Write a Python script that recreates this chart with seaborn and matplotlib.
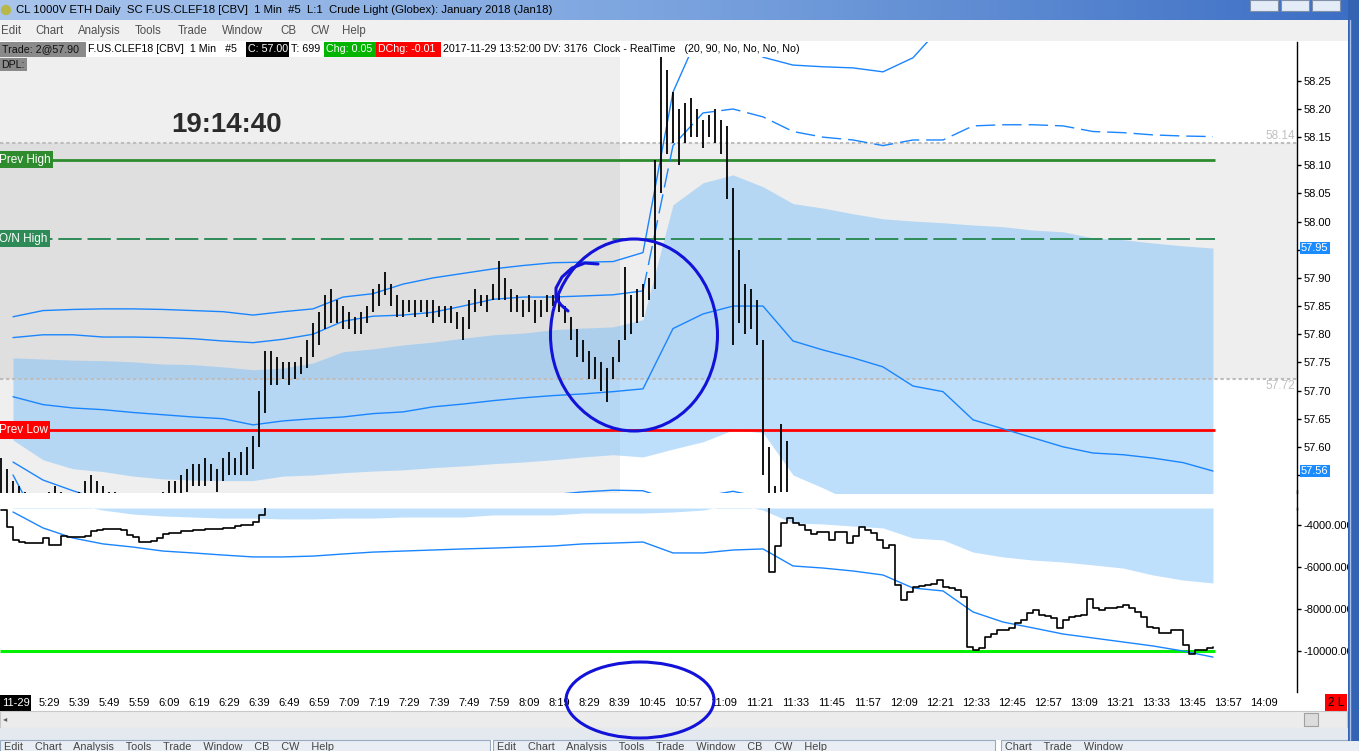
import numpy as np
import pandas as pd
import seaborn as sns
import matplotlib.pyplot as plt
from matplotlib.patches import Rectangle, Ellipse, Circle
from matplotlib.colors import LinearSegmentedColormap
from matplotlib import transforms

# ---- price bars (one bar every 2 slots), low / high
BAR_LO = [57.50, 57.50, 57.48, 57.47, 57.47, 57.46, 57.46, 57.47, 57.48, 57.49,
          57.49, 57.48, 57.48, 57.48, 57.49, 57.50, 57.50, 57.49, 57.49, 57.48,
          57.47, 57.46, 57.46, 57.45, 57.45, 57.46, 57.47, 57.49, 57.50, 57.50,
          57.51, 57.52, 57.53, 57.53, 57.53, 57.54, 57.52, 57.54, 57.55, 57.55,
          57.55, 57.55, 57.56, 57.60, 57.66, 57.71, 57.71, 57.72, 57.71, 57.72,
          57.73, 57.74, 57.76, 57.78, 57.81, 57.82, 57.82, 57.81, 57.81, 57.80,
          57.80, 57.82, 57.84, 57.85, 57.87, 57.85, 57.83, 57.83, 57.84, 57.83,
          57.84, 57.83, 57.82, 57.83, 57.82, 57.82, 57.81, 57.79, 57.81, 57.84,
          57.85, 57.84, 57.86, 57.86, 57.86, 57.84, 57.84, 57.83, 57.84, 57.82,
          57.83, 57.84, 57.85, 57.84, 57.82, 57.79, 57.76, 57.75, 57.72, 57.72,
          57.70, 57.68, 57.72, 57.75, 57.79, 57.80, 57.82, 57.83, 57.86, 57.88,
          58.05, 58.12, 58.14, 58.10, 58.14, 58.15, 58.15, 58.13, 58.15, 58.14,
          58.12, 58.04, 57.78, 57.82, 57.80, 57.81, 57.78, 57.55, 57.45, 57.47,
          57.52, 57.52]
BAR_HI = [57.58, 57.56, 57.54, 57.53, 57.52, 57.51, 57.50, 57.50, 57.52, 57.53,
          57.52, 57.51, 57.51, 57.52, 57.54, 57.55, 57.54, 57.53, 57.52, 57.52,
          57.50, 57.50, 57.50, 57.49, 57.49, 57.50, 57.51, 57.52, 57.54, 57.54,
          57.55, 57.56, 57.57, 57.57, 57.58, 57.57, 57.56, 57.58, 57.59, 57.58,
          57.59, 57.60, 57.62, 57.70, 57.77, 57.77, 57.76, 57.75, 57.75, 57.75,
          57.76, 57.79, 57.82, 57.84, 57.87, 57.88, 57.86, 57.85, 57.84, 57.83,
          57.84, 57.85, 57.88, 57.89, 57.91, 57.89, 57.87, 57.86, 57.86, 57.86,
          57.86, 57.86, 57.86, 57.85, 57.85, 57.85, 57.84, 57.83, 57.86, 57.88,
          57.87, 57.87, 57.89, 57.93, 57.90, 57.88, 57.87, 57.86, 57.87, 57.86,
          57.86, 57.87, 57.87, 57.87, 57.85, 57.83, 57.81, 57.79, 57.77, 57.76,
          57.75, 57.74, 57.76, 57.79, 57.92, 57.87, 57.88, 57.89, 57.90, 58.11,
          58.30, 58.27, 58.23, 58.20, 58.21, 58.22, 58.20, 58.18, 58.19, 58.20,
          58.18, 58.17, 58.06, 57.95, 57.89, 57.88, 57.86, 57.79, 57.60, 57.53,
          57.64, 57.61]

# ---- bands, sampled every 10 slots
VWAP = [57.689, 57.675, 57.669, 57.666, 57.661, 57.657, 57.653, 57.650, 57.639, 57.646,
        57.650, 57.653, 57.659, 57.662, 57.671, 57.676, 57.682, 57.687, 57.691, 57.694,
        57.698, 57.703, 57.810, 57.836, 57.850, 57.850, 57.788, 57.772, 57.758, 57.742,
        57.708, 57.698, 57.648, 57.632, 57.616, 57.600, 57.589, 57.586, 57.580, 57.572,
        57.557]
UPPER1 = [57.794, 57.799, 57.799, 57.795, 57.795, 57.794, 57.792, 57.788, 57.785, 57.791,
          57.800, 57.823, 57.832, 57.834, 57.839, 57.850, 57.862, 57.866, 57.866, 57.868,
          57.870, 57.877, 58.135, 58.193, 58.200, 58.186, 58.160, 58.150, 58.145, 58.135,
          58.145, 58.145, 58.170, 58.172, 58.172, 58.170, 58.160, 58.158, 58.154, 58.152,
          58.151]
UPPER2 = [57.831, 57.842, 57.844, 57.845, 57.845, 57.844, 57.842, 57.840, 57.834, 57.840,
          57.845, 57.866, 57.872, 57.889, 57.900, 57.908, 57.916, 57.922, 57.927, 57.928,
          57.929, 57.945, 58.230, 58.350, 58.360, 58.292, 58.278, 58.275, 58.273, 58.266,
          58.291, 58.350]
LOWER1 = [57.573, 57.541, 57.522, 57.505, 57.495, 57.490, 57.488, 57.488, 57.490, 57.495,
          57.498, 57.500, 57.502, 57.505, 57.507, 57.509, 57.511, 57.513, 57.515, 57.520,
          57.523, 57.522, 57.505, 57.512, 57.521, 57.510]
LOWER2 = [57.550, 57.450]
AREA_HI = [57.758, 57.756, 57.754, 57.753, 57.751, 57.747, 57.746, 57.742, 57.737, 57.740,
           57.749, 57.769, 57.774, 57.781, 57.786, 57.793, 57.799, 57.802, 57.808, 57.811,
           57.813, 57.826, 58.030, 58.069, 58.083, 58.062, 58.032, 58.024, 58.014, 58.005,
           58.001, 57.998, 57.994, 57.991, 57.985, 57.982, 57.971, 57.968, 57.962, 57.957,
           57.953]
AREA_LO = [57.612, 57.577, 57.561, 57.556, 57.548, 57.543, 57.541, 57.540, 57.540, 57.548,
           57.550, 57.554, 57.557, 57.559, 57.563, 57.566, 57.570, 57.573, 57.577, 57.582,
           57.586, 57.582, 57.596, 57.609, 57.630, 57.625, 57.550, 57.527, 57.502, 57.479,
           57.415, 57.398, 57.302, 57.273, 57.247, 57.218, 57.207, 57.204, 57.198, 57.187,
           57.161]

PREV_HIGH, ON_HIGH, PREV_LOW = 58.11, 57.97, 57.63
RANGE_HI, RANGE_LO = 58.14, 57.72
PRICE_TICKS = [58.25, 58.20, 58.15, 58.10, 58.05, 58.00, 57.95, 57.90,
               57.85, 57.80, 57.75, 57.70, 57.65, 57.60, 57.55]

# ---- lower panel: cumulative delta (two visible pieces) and its band
DELTA_A = [-3290, -4100, -4720, -4800, -4860, -4860, -4860, -4600, -4950, -4950,
           -4500, -4550, -4570, -4570, -4500, -4300, -4250, -4200, -4190, -4190,
           -4250, -4480, -4570, -4800, -4800, -4750, -4620, -4430, -4400, -4380,
           -4300, -4300, -4250, -4250, -4190, -4190, -4190, -4150, -4150, -4030,
           -4020, -4020, -3860, -3520, -2700]
DELTA_B = [-2700, -6240, -5000, -3900, -3650, -3900, -4000, -4240, -4450, -4330,
           -4330, -4710, -4330, -4330, -4860, -4500, -4100, -4240, -4380, -4710,
           -5100, -4950, -6860, -7570, -7200, -6950, -6900, -6860, -6800, -6620,
           -6950, -7000, -7100, -7430, -9810, -9950, -9880, -9330, -9200, -9000,
           -9000, -8900, -8670, -8520, -8190, -8050, -8290, -8350, -8430, -8900,
           -8520, -8380, -8330, -8290, -7500, -7950, -8050, -7950, -7950, -7900,
           -7810, -7950, -8140, -8380, -8860, -8900, -9140, -9140, -9000, -9000,
           -9710, -10140, -9950, -9950, -9860, -9810]
DELTA_VWAP = [-3380, -4140, -4620, -4900, -5050, -5240, -5330, -5430, -5520, -5520,
              -5480, -5380, -5290, -5240, -5190, -5140, -5100, -5050, -5000, -4900,
              -4860, -4810, -5330, -5330, -5190, -5140, -5950, -6050, -6190, -6380,
              -7000, -7140, -8140, -8620, -8900, -9190, -9380, -9570, -9760, -10000,
              -10290]
DELTA_AREA = [-3000, -3000, -3000, -3290, -3480, -3570, -3620, -3670, -3670, -3710,
              -3710, -3670, -3670, -3620, -3620, -3620, -3520, -3520, -3520, -3430,
              -3430, -3430, -3380, -3290, -3000, -3290, -3900, -3950, -4050, -4140,
              -4620, -4710, -5290, -5520, -5670, -5760, -5900, -6050, -6380, -6620,
              -6760]
DELTA_LEVEL = -10000
DELTA_TICKS = [-4000, -6000, -8000, -10000]

TIME_LABELS = ['5:29', '5:39', '5:49', '5:59', '6:09', '6:19', '6:29', '6:39', '6:49', '6:59',
               '7:09', '7:19', '7:29', '7:39', '7:49', '7:59', '8:09', '8:19', '8:29', '8:39',
               '10:45', '10:57', '11:09', '11:21', '11:33', '11:45', '11:57', '12:09', '12:21',
               '12:33', '12:45', '12:57', '13:09', '13:21', '13:33', '13:45', '13:57', '14:09']

# ---------------------------------------------------------------------------
sns.set_style("white")
plt.rcParams['font.family'] = ['Liberation Sans', 'DejaVu Sans']

W, H = 1359, 751
BLUE = '#1a85ff'


def slot(px):
    # screen column -> bar slot
    return (px - 49) / 3.0


bar_x = [-16 + 2 * i for i in range(len(BAR_LO))]
band_x = [-12 + 10 * i for i in range(len(VWAP))]
da_x = [-16 + 2 * i for i in range(len(DELTA_A))]
db_x = [238 + 2 * i for i in range(len(DELTA_B))]
tick_x = [10 * i if i < 20 else 201 + 12 * (i - 20) for i in range(len(TIME_LABELS))]
XL = (slot(0), slot(1297))
SESSION_END = slot(620)
LINE_END = slot(1215)

fig = plt.figure(figsize=(W / 100, H / 100), dpi=100, facecolor='white')
ax = fig.add_axes([0, 1 - 493 / H, 1297 / W, 451 / H])
ax2 = fig.add_axes([0, 1 - 692 / H, 1297 / W, 184 / H])

# ---- main price panel
ax.axvspan(XL[0], SESSION_END, color='#efefef', lw=0, zorder=0)
ax.axhspan(RANGE_LO, RANGE_HI, color='black', alpha=0.065, lw=0, zorder=0.2)
ax.fill_between(band_x, AREA_LO, AREA_HI, color='#7fc1f9', alpha=0.5, lw=0, zorder=1)

for level in (RANGE_HI, RANGE_LO):
    ax.hlines(level, XL[0], XL[1], color='#bdbdbd', lw=1.5, ls=(0, (1.6, 1.3)), zorder=2)
ax.hlines(PREV_HIGH, XL[0], LINE_END, color='#2e8b2e', lw=2, zorder=2)
ax.hlines(ON_HIGH, XL[0], LINE_END, color='#2e8b57', lw=1.4, ls=(0, (12, 3)), zorder=2)
ax.hlines(PREV_LOW, XL[0], LINE_END, color='#ff0000', lw=2, zorder=2)

sns.lineplot(x=band_x, y=VWAP, ax=ax, color=BLUE, lw=1, estimator=None, sort=False, zorder=3)
sns.lineplot(x=band_x[:22], y=UPPER1[:22], ax=ax, color=BLUE, lw=1, estimator=None,
             sort=False, zorder=3)
sns.lineplot(x=band_x[21:], y=UPPER1[21:], ax=ax, color=BLUE, lw=1, ls=(0, (14, 5)),
             estimator=None, sort=False, zorder=3)
sns.lineplot(x=band_x[:len(UPPER2)], y=UPPER2, ax=ax, color=BLUE, lw=1, estimator=None,
             sort=False, zorder=3)
sns.lineplot(x=band_x[:len(LOWER1)], y=LOWER1, ax=ax, color=BLUE, lw=1, estimator=None,
             sort=False, zorder=3)
sns.lineplot(x=band_x[:len(LOWER2)], y=LOWER2, ax=ax, color=BLUE, lw=1, estimator=None,
             sort=False, zorder=3)

ax.vlines(bar_x, BAR_LO, BAR_HI, color='black', lw=1.3, zorder=4)

ax.set_xlim(XL)
ax.set_ylim(57.518, 58.319)
ax.set_xticks([])
ax.set_yticks(PRICE_TICKS)
# the last-price tag sits over the bottom label, as on the screen
ax.set_yticklabels(['%.2f' % v if v > 57.56 else '' for v in PRICE_TICKS])
ax.yaxis.tick_right()
ax.tick_params(axis='y', direction='out', length=3, width=1, pad=1.5, labelsize=8,
               colors='black')
ax.set_xlabel('')
ax.set_ylabel('')
for s in ('top', 'left', 'bottom'):
    ax.spines[s].set_visible(False)
ax.spines['right'].set_color('black')
ax.spines['right'].set_linewidth(1)

# level tags on the left edge
for level, name, col in ((PREV_HIGH, 'Prev High', '#2e8b2e'), (ON_HIGH, 'O/N High', '#2e8b57'),
                         (PREV_LOW, 'Prev Low', '#ff0000')):
    ax.text(XL[0] - 0.4, level, name, color='white', fontsize=8.5, va='center', ha='left',
            zorder=6, bbox=dict(boxstyle='square,pad=0.22', fc=col, ec='none'))
ax.text(slot(1295), RANGE_HI + 0.002, '58.14', color='#c0c0c0', fontsize=8.5,
        ha='right', va='bottom', zorder=6)
ax.text(slot(1295), RANGE_LO - 0.002, '57.72', color='#c0c0c0', fontsize=8.5,
        ha='right', va='top', zorder=6)
ax.text(slot(227), 58.172, '19:14:40', fontsize=20, fontweight='bold', color='#2b2b2b',
        ha='center', va='center', zorder=6)

# highlighted values on the price scale
trans = transforms.blended_transform_factory(ax.transAxes, ax.transData)
for val, txt in ((AREA_HI[-1], '57.95'), (VWAP[-1], '57.56')):
    ax.text(1301 / 1297, val, txt, transform=trans, color='white', fontsize=8,
            ha='left', va='center', clip_on=False, zorder=8,
            bbox=dict(boxstyle='square,pad=0.12', fc='#1a8cff', ec='none'))

# ---- lower delta panel
YTOP, YBOT = -3190, -11952
ax2.fill_between(band_x, DELTA_AREA, YTOP, color='#bfe0fc', lw=0, zorder=1)
ax2.hlines(DELTA_LEVEL, XL[0], LINE_END, color='#00f000', lw=2.2, zorder=2)
sns.lineplot(x=band_x, y=DELTA_VWAP, ax=ax2, color=BLUE, lw=1, estimator=None,
             sort=False, zorder=3)
sns.lineplot(x=da_x, y=DELTA_A, ax=ax2, color='black', lw=1.2, estimator=None,
             sort=False, drawstyle='steps-post', zorder=4)
sns.lineplot(x=db_x, y=DELTA_B, ax=ax2, color='black', lw=1.2, estimator=None,
             sort=False, drawstyle='steps-post', zorder=4)
ax2.set_xlim(XL)
ax2.set_ylim(YBOT, YTOP)
ax2.set_yticks(DELTA_TICKS)
ax2.set_yticklabels(['%.3f' % v for v in DELTA_TICKS])
ax2.yaxis.tick_right()
ax2.tick_params(axis='y', direction='out', length=3, width=1, pad=1.5, labelsize=8,
                colors='black')
ax2.set_xticks(tick_x)
ax2.set_xticklabels(TIME_LABELS)
ax2.tick_params(axis='x', length=0, pad=4.5, labelsize=8, colors='black')
ax2.set_xlabel('')
ax2.set_ylabel('')
for s in ('top', 'left', 'bottom'):
    ax2.spines[s].set_visible(False)
ax2.spines['right'].set_color('black')
ax2.spines['right'].set_linewidth(1)

# ---- window chrome on top, in screen pixels
ov = fig.add_axes([0, 0, 1, 1], zorder=10)
ov.patch.set_alpha(0)
grad = np.linspace(0, 1, 256).reshape(1, -1)
cmap = LinearSegmentedColormap.from_list('tb', ['#a9c5ec', '#7aa3de', '#3c6ec4'])
ov.imshow(grad, extent=(0, W, 20, 0), aspect='auto', cmap=cmap, zorder=0)
ov.set_xlim(0, W)
ov.set_ylim(H, 0)
ov.axis('off')

ov.add_patch(Circle((6, 10), 4.5, color='#b8b84a', zorder=1))
ov.text(16, 10, 'CL 1000V ETH Daily  SC F.US.CLEF18 [CBV]  1 Min  #5  L:1  Crude Light (Globex): '
        'January 2018 (Jan18)', fontsize=8.2, va='center', ha='left', color='black')
for bx in (1250, 1281, 1312):
    ov.add_patch(Rectangle((bx, 0), 28, 11, fc='#e4ecf7', ec='#8090a8', lw=0.8, zorder=1))

ov.add_patch(Rectangle((0, 20), W, 21, fc='#f0f0f0', ec='none', zorder=1))
for mx, name in ((1, 'Edit'), (35, 'Chart'), (78, 'Analysis'), (135, 'Tools'), (178, 'Trade'),
                 (222, 'Window'), (280, 'CB'), (310, 'CW'), (342, 'Help')):
    ov.text(mx, 31, name, fontsize=8.3, color='#505050', va='center', ha='left', zorder=2)

# status line above the chart
for x0, w, fc, tc, txt in ((0, 86, '#8a8a8a', '#111111', 'Trade: 2@57.90'),
                           (86, 160, 'white', 'black', 'F.US.CLEF18 [CBV]  1 Min   #5'),
                           (246, 43, 'black', 'white', 'C: 57.00'),
                           (289, 35, 'white', 'black', 'T: 699'),
                           (324, 52, '#00b400', 'white', 'Chg: 0.05'),
                           (376, 65, '#ff0000', 'white', 'DChg: -0.01'),
                           (441, 384, 'white', 'black',
                            '2017-11-29 13:52:00 DV: 3176  Clock - RealTime   '
                            '(20, 90, No, No, No, No)')):
    ov.add_patch(Rectangle((x0, 42), w, 15, fc=fc, ec='none', zorder=1))
    ov.text(x0 + 2, 49.5, txt, fontsize=7.7, color=tc, va='center', ha='left', zorder=2)
ov.add_patch(Rectangle((0, 58), 27, 13, fc='#8a8a8a', ec='none', zorder=1))
ov.text(1, 64.5, 'DPL:', fontsize=7.7, color='#111111', va='center', ha='left', zorder=2)

ov.plot([1296.5, 1296.5], [490, 510], color='black', lw=1, zorder=1)

# bottom row, scrollbar and neighbouring windows
ov.add_patch(Rectangle((0, 695), 31, 16, fc='black', ec='none', zorder=1))
ov.text(15.5, 703, '11-29', fontsize=8, color='white', ha='center', va='center', zorder=2)
ov.add_patch(Rectangle((1325, 694), 22, 17, fc='#ff0000', ec='none', zorder=1))
ov.text(1336, 702.5, '2 L', fontsize=8.5, color='black', ha='center', va='center', zorder=2)
ov.add_patch(Rectangle((0, 711), 1347, 17, fc='#ececec', ec='#c8c8c8', lw=0.8, zorder=1))
ov.add_patch(Rectangle((1304, 713), 14, 13, fc='#dcdcdc', ec='#a0a0a0', lw=0.8, zorder=2))
ov.text(3, 719.5, '\u25c2', fontsize=6, color='#606060', ha='left', va='center', zorder=2)
ov.add_patch(Rectangle((0, 728), W, 12, fc='#e4e9ef', ec='none', zorder=1))
for x0, w, items in ((0, 490, 'Edit    Chart    Analysis    Tools    Trade    Window    CB    CW    Help'),
                     (493, 502, 'Edit    Chart    Analysis    Tools    Trade    Window    CB    CW    Help'),
                     (1001, 358, 'Chart    Trade    Window')):
    ov.add_patch(Rectangle((x0, 740), w, 14, fc='#e9eef4', ec='#9aaac0', lw=0.8, zorder=1))
    ov.text(x0 + 4, 746.5, items, fontsize=7.8, color='#444444', ha='left', va='center', zorder=2)

ov.add_patch(Rectangle((1348, 0), 11, 741, fc='#3563b3', ec='none', zorder=3))
ov.plot([1349.5, 1349.5], [20, 740], color='#a9c0e6', lw=1, zorder=4)

# hand-drawn marks
INK = '#1212d8'
ov.add_patch(Ellipse((634, 335), 167, 192, fill=False, ec=INK, lw=2.2, zorder=5))
ov.plot([598, 585, 572, 562, 556, 556, 561, 568], [264, 263, 268, 277, 288, 298, 305, 311],
        color=INK, lw=2.2, solid_capstyle='round', zorder=5)
ov.add_patch(Ellipse((640, 700), 148, 76, fill=False, ec=INK, lw=2.2, zorder=5))

fig.savefig('out.png', dpi=100, facecolor='white')
